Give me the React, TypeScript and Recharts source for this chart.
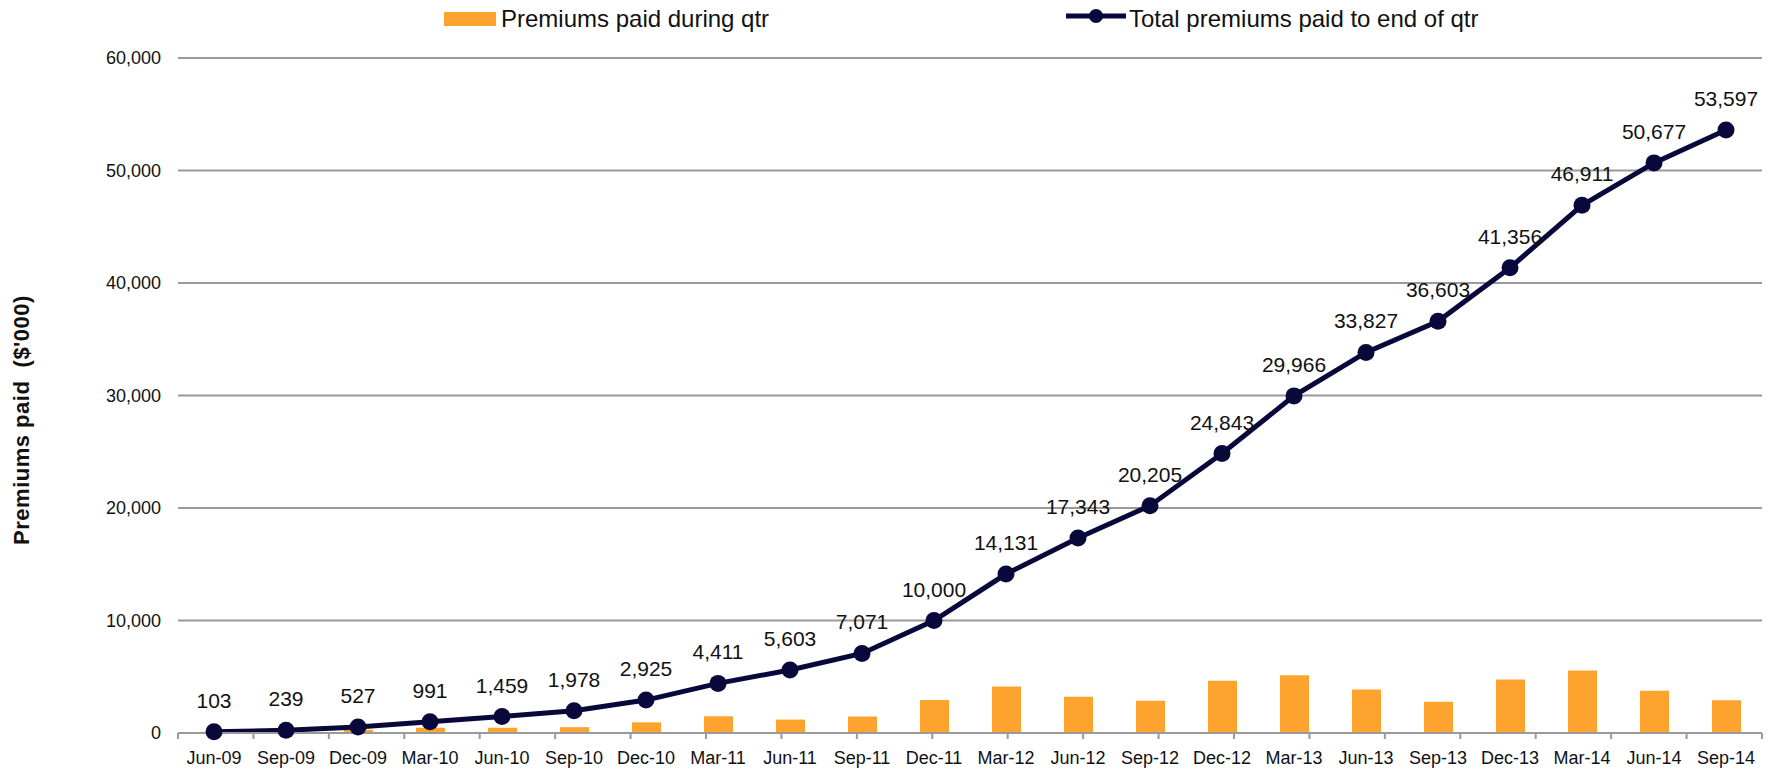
import { ComposedChart, Bar, Line, XAxis, YAxis, CartesianGrid, LabelList } from 'recharts';

const quarters = [
  'Jun-09', 'Sep-09', 'Dec-09', 'Mar-10', 'Jun-10', 'Sep-10', 'Dec-10', 'Mar-11',
  'Jun-11', 'Sep-11', 'Dec-11', 'Mar-12', 'Jun-12', 'Sep-12', 'Dec-12', 'Mar-13',
  'Jun-13', 'Sep-13', 'Dec-13', 'Mar-14', 'Jun-14', 'Sep-14',
];

// premiums paid in each quarter ($'000)
const paidDuringQtr = [
  103, 136, 288, 464, 468, 519, 947, 1486, 1192, 1468, 2929, 4131,
  3212, 2862, 4638, 5123, 3861, 2776, 4753, 5555, 3766, 2920,
];

// running total at quarter end ($'000)
const totalPaid = [
  103, 239, 527, 991, 1459, 1978, 2925, 4411, 5603, 7071, 10000, 14131,
  17343, 20205, 24843, 29966, 33827, 36603, 41356, 46911, 50677, 53597,
];

const yTicks = [0, 10000, 20000, 30000, 40000, 50000, 60000];
const boundaryTicks = Array.from({ length: quarters.length + 1 }, (_, i) => i);

const FONT = "'Liberation Sans', Arial, sans-serif";
const ORANGE = '#FFA32F';
const NAVY = '#08083A';
const GRID = '#9A9A9A';

const data = quarters.map((q, i) => ({
  quarter: q,
  during: paidDuringQtr[i],
  total: totalPaid[i],
}));

const fmt = (v: number) => Number(v).toLocaleString('en-US');

export default function App() {
  return (
    <div style={{ position: 'absolute', left: 0, top: 0, width: 1773, height: 771, background: '#FFFFFF', fontFamily: FONT }}>
      <ComposedChart
        width={1773}
        height={771}
        data={data}
        margin={{ top: 58, right: 11, bottom: 0, left: 0 }}
      >
        <CartesianGrid xAxisId="cat" vertical={false} stroke={GRID} strokeWidth={2} />
        {/* tick marks sit between quarters, so they get their own numeric axis */}
        <XAxis
          xAxisId="bounds"
          type="number"
          domain={[0, quarters.length]}
          ticks={boundaryTicks}
          interval={0}
          allowDataOverflow
          height={1}
          tickSize={6}
          tickFormatter={() => ''}
          axisLine={{ stroke: GRID, strokeWidth: 2 }}
          tickLine={{ stroke: GRID, strokeWidth: 2 }}
        />
        <XAxis
          xAxisId="cat"
          dataKey="quarter"
          height={37}
          interval={0}
          axisLine={false}
          tickLine={false}
          tickSize={0}
          tickMargin={17}
          tick={{ fontSize: 18, fill: '#111', fontFamily: FONT }}
        />
        <YAxis
          width={178}
          domain={[0, 60000]}
          ticks={yTicks}
          axisLine={false}
          tickLine={false}
          tickMargin={11}
          tickFormatter={fmt}
          tick={{ fontSize: 18, fill: '#111', fontFamily: FONT }}
        />
        <Bar
          xAxisId="cat"
          dataKey="during"
          name="Premiums paid during qtr"
          fill={ORANGE}
          barSize={29}
          isAnimationActive={false}
        />
        <Line
          xAxisId="cat"
          dataKey="total"
          name="Total premiums paid to end of qtr"
          stroke={NAVY}
          strokeWidth={5}
          dot={{ r: 8.5, fill: NAVY, stroke: NAVY, strokeWidth: 0 }}
          activeDot={false}
          isAnimationActive={false}
        >
          <LabelList
            dataKey="total"
            position="top"
            offset={24}
            formatter={(v: number) => fmt(v)}
            style={{ fontSize: 21, fill: '#111', fontFamily: FONT }}
          />
        </Line>
      </ComposedChart>

      {/* legend */}
      <div style={{ position: 'absolute', left: 444, top: 12, width: 52, height: 14, background: ORANGE }} />
      <div style={{ position: 'absolute', left: 501, top: 7, fontSize: 24, lineHeight: '24px', color: '#111', whiteSpace: 'nowrap' }}>
        Premiums paid during qtr
      </div>
      <svg style={{ position: 'absolute', left: 1066, top: 9, width: 60, height: 14, overflow: 'visible' }}>
        <line x1={0} y1={7} x2={60} y2={7} stroke={NAVY} strokeWidth={5} />
        <circle cx={30} cy={7} r={7} fill={NAVY} />
      </svg>
      <div style={{ position: 'absolute', left: 1129, top: 7, fontSize: 24, lineHeight: '24px', color: '#111', whiteSpace: 'nowrap' }}>
        Total premiums paid to end of qtr
      </div>

      {/* y axis title */}
      <svg style={{ position: 'absolute', left: 0, top: 0, width: 80, height: 771, pointerEvents: 'none' }}>
        <text
          x={29}
          y={420}
          transform="rotate(-90 29 420)"
          textAnchor="middle"
          style={{ fontSize: 22, fontWeight: 700, fill: '#111', fontFamily: FONT, whiteSpace: 'pre', letterSpacing: 0.5 }}
        >
          {"Premiums paid  ($'000)"}
        </text>
      </svg>
    </div>
  );
}
